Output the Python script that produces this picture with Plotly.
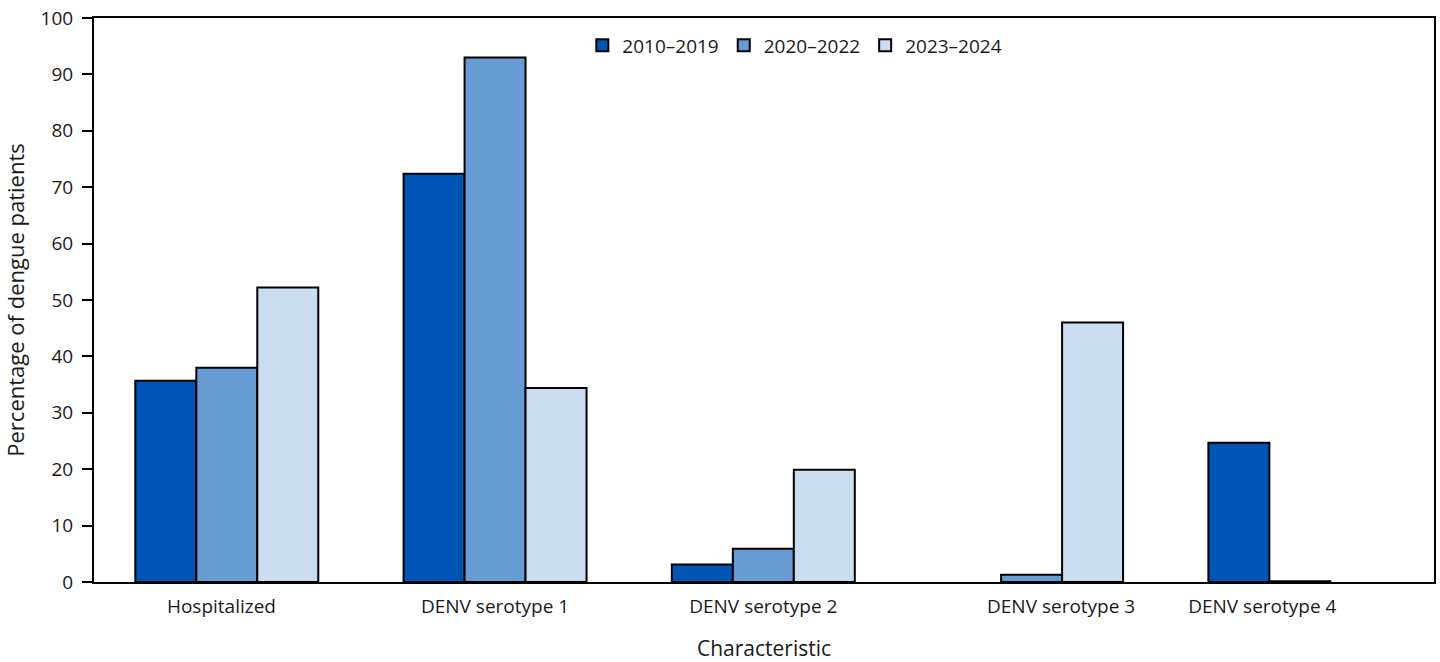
import plotly.graph_objects as go

categories = ["Hospitalized", "DENV serotype 1", "DENV serotype 2", "DENV serotype 3", "DENV serotype 4"]
series_names = ["2010–2019", "2020–2022", "2023–2024"]
v_2010_2019 = [35.7, 72.4, 3.1, 0.0, 24.7]
v_2020_2022 = [38.0, 93.0, 5.9, 1.3, 0.15]
v_2023_2024 = [52.2, 34.4, 19.9, 46.0, 0.0]
y_ticks = [0, 10, 20, 30, 40, 50, 60, 70, 80, 90, 100]

colors = ["#0055B7", "#679BD4", "#CCDCF0"]
label_offsets = [-0.02, 0.0, 0.0, 0.11, -0.14]

x_idx = list(range(len(categories)))
fig = go.Figure()
for name, vals, col in zip(series_names, [v_2010_2019, v_2020_2022, v_2023_2024], colors):
    fig.add_trace(go.Bar(
        x=x_idx, y=vals, name=name,
        marker=dict(color=col, line=dict(color="black", width=[0 if v == 0 else 2 for v in vals])),
    ))

font_family = "Open Sans, Lato, sans-serif"
fig.update_layout(
    width=1440, height=662,
    margin=dict(l=94, r=6, t=18, b=80, autoexpand=False),
    barmode="group", bargap=0.318, bargroupgap=0,
    plot_bgcolor="white", paper_bgcolor="white",
    font=dict(family=font_family, size=18, color="#1a1a1a"),
    legend=dict(orientation="h", x=0.523, xanchor="center", y=0.985, yanchor="top",
                font=dict(size=19), bgcolor="rgba(0,0,0,0)", traceorder="normal"),
    xaxis=dict(
        range=[-0.495, 4.5], tickmode="array",
        tickvals=[i + o for i, o in zip(x_idx, label_offsets)], ticktext=categories,
        ticks="", showline=True, linecolor="black", linewidth=2, mirror=True,
        showgrid=False, zeroline=False, tickfont=dict(size=19), ticklabelstandoff=6,
        automargin=False,
        title=dict(text="Characteristic", font=dict(size=21), standoff=26),
    ),
    yaxis=dict(
        range=[0, 100], tickmode="array", tickvals=y_ticks,
        ticks="outside", ticklen=10, tickwidth=2, tickcolor="black",
        showline=True, linecolor="black", linewidth=2, mirror=True,
        showgrid=False, zeroline=False, tickfont=dict(size=19),
        ticklabelstandoff=5, ticklabeloverflow="allow", automargin=False,
        title=dict(text="Percentage of dengue patients", font=dict(size=22), standoff=12),
    ),
)
fig.write_html(
    "out.html",
    config={"displayModeBar": False},
    post_script="document.body.style.margin='0';document.body.style.overflow='hidden';",
)
